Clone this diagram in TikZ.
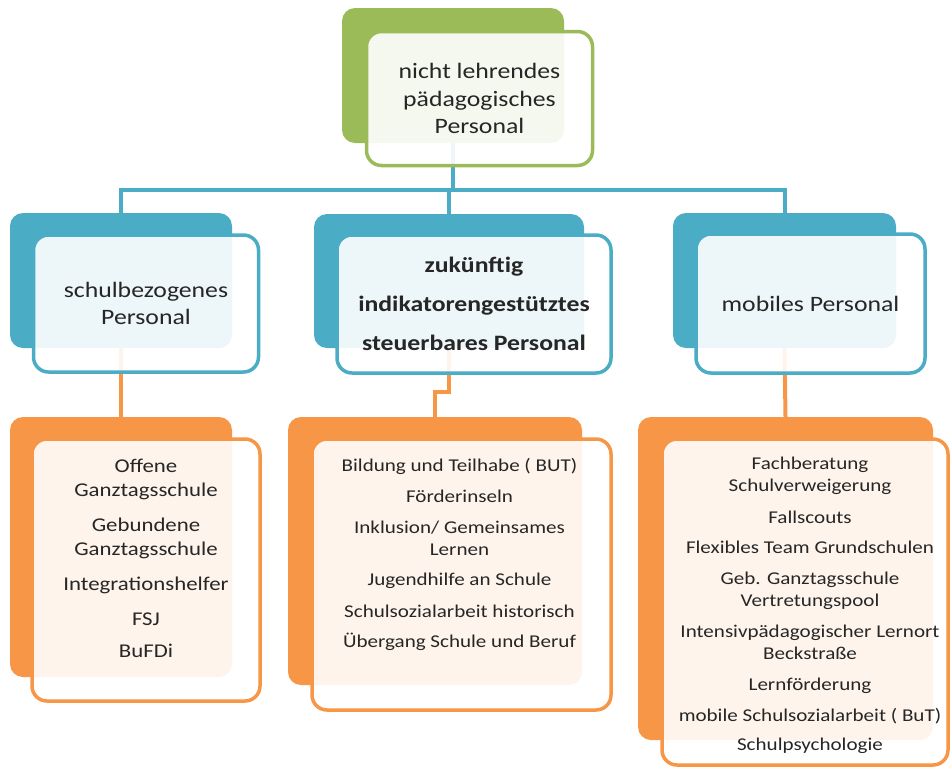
\documentclass[tikz,border=0pt]{standalone}
\usepackage{fontspec}
\setmainfont{Carlito}[FakeStretch=1.17]
\usetikzlibrary{positioning,backgrounds}
\definecolor{olgreen}{HTML}{9BBB59}
\definecolor{aqua}{HTML}{4BACC6}
\definecolor{tang}{HTML}{F79646}
\definecolor{ink}{HTML}{262626}
\tikzset{
  back/.style={rectangle, rounded corners=13pt, fill=#1, inner sep=0pt},
  front/.style={rectangle, rounded corners=15pt, draw=#1, line width=3.5pt, fill=white,
    fill opacity=0.9, text opacity=1, inner sep=0pt, text=ink, align=center},
  conn/.style={line width=4pt, draw=#1},
  itemtext/.style={inner sep=0pt, text=ink, align=center}
}
\begin{document}
\begin{tikzpicture}[x=1pt, y=-1pt]
\useasboundingbox (0,0) rectangle (952,769);
% top box
\node[back=olgreen, minimum width=222pt, minimum height=135pt] (topB) at (453,75.5) {};
\node[front=olgreen, minimum width=226pt, minimum height=134pt, font=\fontsize{22}{27.5}\selectfont] (top) at (479.5,98.5)
  {nicht lehrendes\\pädagogisches\\Personal};
% second row
\node[back=aqua, minimum width=222pt, minimum height=135pt] (slB) at (121,280.5) {};
\node[front=aqua, minimum width=225pt, minimum height=137pt, font=\fontsize{22}{27.5}\selectfont] (sl) at (146,303.5)
  {schulbezogenes\\Personal};
\node[back=aqua, minimum width=270pt, minimum height=134pt] (ifB) at (449,281) {};
\node[front=aqua, minimum width=274pt, minimum height=138pt, font=\fontsize{22}{39}\selectfont\bfseries] (if) at (474,304)
  {zukünftig\\indikatorengestütztes\\steuerbares Personal};
\node[back=aqua, minimum width=223pt, minimum height=135pt] (mobB) at (784.5,280.5) {};
\node[front=aqua, minimum width=229pt, minimum height=139pt, font=\fontsize{22}{27.5}\selectfont] (mob) at (810.5,303.5)
  {mobiles Personal};
% third row
\node[back=tang, minimum width=222pt, minimum height=260pt] (ogB) at (121,547) {};
\node[front=tang, minimum width=228pt, minimum height=262pt] (og) at (146,570) {};
\node[itemtext, below=22pt of og.north, font=\fontsize{19.5}{24}\selectfont] (ogT)
  {Offene\\Ganztagsschule\\[11pt]Gebundene\\Ganztagsschule\\[11pt]Integrationshelfer\\[11pt]FSJ\\[8pt]BuFDi};
\node[back=tang, minimum width=294pt, minimum height=268pt] (butB) at (435,551) {};
\node[front=tang, minimum width=299pt, minimum height=271pt] (but) at (461.5,574.5) {};
\node[itemtext, below=21pt of but.north, xshift=-2pt, font=\fontsize{18}{21.5}\selectfont] (butT)
  {Bildung und Teilhabe ( BUT)\\[9pt]Förderinseln\\[10pt]Inklusion/ Gemeinsames\\Lernen\\[9pt]Jugendhilfe an Schule\\[10pt]Schulsozialarbeit historisch\\[9pt]Übergang Schule und Beruf};
\node[back=tang, minimum width=295pt, minimum height=323pt] (fachB) at (785.5,578.5) {};
\node[front=tang, minimum width=286pt, minimum height=326pt] (fach) at (805,602) {};
\node[itemtext, below=19.5pt of fach.north, xshift=5pt, font=\fontsize{18}{22.5}\selectfont] (fachT)
  {Fachberatung\\Schulverweigerung\\[9pt]Fallscouts\\[8pt]Flexibles Team Grundschulen\\[8pt]Geb. Ganztagsschule\\Vertretungspool\\[8pt]Intensivpädagogischer Lernort\\Beckstraße\\[8pt]Lernförderung\\[9pt]mobile Schulsozialarbeit ( BuT)\\[6pt]Schulpsychologie};
% connectors
\begin{scope}[on background layer]
\coordinate (bus) at (453,190);
\draw[conn=aqua] (topB.south) -- (bus);
\draw[conn=aqua] (slB.north) |- (mobB.north |- bus) -- (mobB.north);
\draw[conn=aqua] (ifB.north) -- (ifB.north |- bus);
\draw[conn=tang] (slB.south) -- (ogB.north);
\draw[conn=tang] (ifB.south) -- ++(0,44) -| (butB.north);
\draw[conn=tang] (mobB.south) -- (fachB.north);
\end{scope}
\end{tikzpicture}
\end{document}
